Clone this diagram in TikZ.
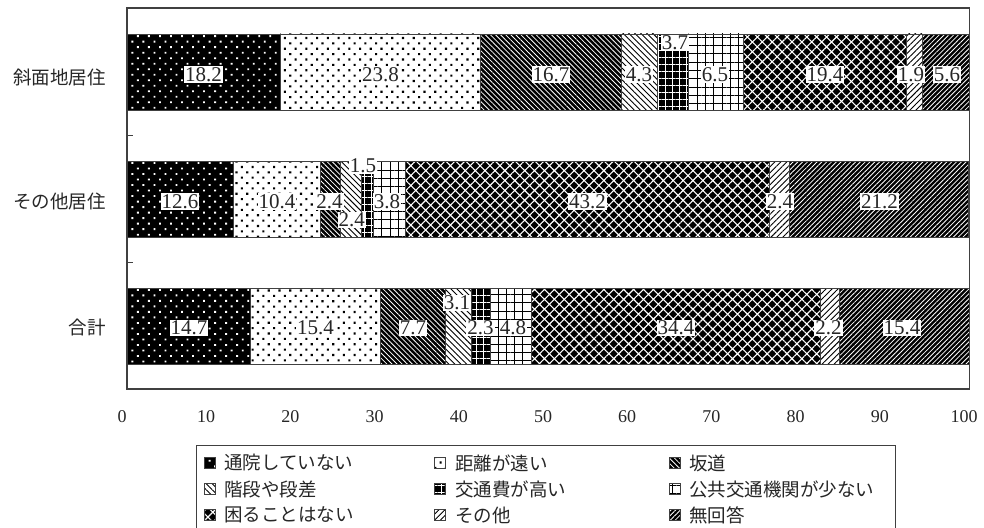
\documentclass[tikz,border=0pt]{standalone}
\usepackage{fontspec}
\setmainfont{Liberation Serif}
\newfontfamily\jp{Noto Sans CJK JP}
\usetikzlibrary{patterns.meta}
\definecolor{frm}{HTML}{404040}
\definecolor{txt}{HTML}{262626}
\tikzset{
  pA/.style={preaction={fill=black}, pattern={Dots[radius=1.3pt, distance=7.8pt, angle=45]}, pattern color=white},
  pB/.style={preaction={fill=white}, pattern={Dots[radius=1.5pt, distance=7.6pt, angle=45]}, pattern color=black},
  pC/.style={preaction={fill=black}, pattern={Lines[angle=-45, distance=3.6pt, line width=0.8pt]}, pattern color=white},
  pD/.style={preaction={fill=white}, pattern={Lines[angle=-45, distance=4.2pt, line width=0.9pt]}, pattern color=black},
  pE/.style={preaction={fill=black}, pattern={Hatch[angle=0, distance=7pt, line width=1pt]}, pattern color=white},
  pF/.style={preaction={fill=white}, pattern={Hatch[angle=0, distance=8.3pt, line width=1pt]}, pattern color=black},
  pG/.style={preaction={fill=black}, pattern={Hatch[angle=45, distance=7pt, line width=1.1pt]}, pattern color=white},
  pH/.style={preaction={fill=white}, pattern={Lines[angle=45, distance=4.2pt, line width=0.9pt]}, pattern color=black},
  pI/.style={preaction={fill=black}, pattern={Lines[angle=45, distance=3.4pt, line width=0.8pt]}, pattern color=white},
  segline/.style={draw=frm, line width=0.8pt},
  vlab/.style={fill=white, inner sep=1pt, text=txt, font=\fontsize{21}{21}\selectfont},
  ticklab/.style={inner sep=0pt, text=txt, font=\fontsize{18}{18}\selectfont},
  catlab/.style={anchor=east, inner sep=0pt, text=txt, font=\jp\fontsize{18.5}{18.5}\selectfont},
  leglab/.style={anchor=west, inner sep=0pt, text=txt, font=\jp\fontsize{18.5}{18.5}\selectfont},
  swatch/.style={draw=frm, line width=0.6pt, minimum size=10.5pt, inner sep=0pt},
}
\newcommand\segm[4]{\path[#4, segline] ({127+8.42*#1},#3) rectangle ({127+8.42*#2},{#3+76});}
\begin{document}
\begin{tikzpicture}[x=1pt, y=-1pt]
\useasboundingbox[fill=white] (0,0) rectangle (984,527);
% bar 1
\segm{0}{18.2}{34}{pA}
\segm{18.2}{42.0}{34}{pB}
\segm{42.0}{58.7}{34}{pC}
\segm{58.7}{63.0}{34}{pD}
\segm{63.0}{66.7}{34}{pE}
\segm{66.7}{73.2}{34}{pF}
\segm{73.2}{92.6}{34}{pG}
\segm{92.6}{94.5}{34}{pH}
\segm{94.5}{100.1}{34}{pI}
% bar 2
\segm{0}{12.6}{161.5}{pA}
\segm{12.6}{23.0}{161.5}{pB}
\segm{23.0}{25.4}{161.5}{pC}
\segm{25.4}{27.8}{161.5}{pD}
\segm{27.8}{29.3}{161.5}{pE}
\segm{29.3}{33.1}{161.5}{pF}
\segm{33.1}{76.3}{161.5}{pG}
\segm{76.3}{78.7}{161.5}{pH}
\segm{78.7}{99.9}{161.5}{pI}
% bar 3
\segm{0}{14.7}{288}{pA}
\segm{14.7}{30.1}{288}{pB}
\segm{30.1}{37.8}{288}{pC}
\segm{37.8}{40.9}{288}{pD}
\segm{40.9}{43.2}{288}{pE}
\segm{43.2}{48.0}{288}{pF}
\segm{48.0}{82.4}{288}{pG}
\segm{82.4}{84.6}{288}{pH}
\segm{84.6}{100.0}{288}{pI}
% frame
\draw[frm, line width=1.2pt] (127,8) rectangle (969.5,389);
\draw[frm, line width=1pt] (127,135) -- (133,135) (127,262) -- (133,262);
% value labels bar 1
\node[vlab] (a1) at (203.6,74.5) {18.2};
\node[vlab] (a2) at (380.4,74.5) {23.8};
\node[vlab] (a3) at (551,74.5) {16.7};
\node[vlab] (a4) at (639,74.5) {4.3};
\node[vlab] (a5) at (675,43) {3.7};
\node[vlab] (a6) at (715,74.5) {6.5};
\node[vlab] (a7) at (825,74.5) {19.4};
\node[vlab] (a8) at (911,74.5) {1.9};
\node[vlab] (a9) at (947,74.5) {5.6};
% value labels bar 2
\node[vlab] (b1) at (180,201.5) {12.6};
\node[vlab] (b2) at (277,201.5) {10.4};
\node[vlab] (b3) at (329.5,201.5) {2.4};
\node[vlab] (b4) at (351.7,220) {2.4};
\node[vlab] (b5) at (363,166) {1.5};
\node[vlab] (b6) at (387,201.5) {3.8};
\node[vlab] (b7) at (587.5,201.5) {43.2};
\node[vlab] (b8) at (780,201.5) {2.4};
\node[vlab] (b9) at (879.5,201.5) {21.2};
% value labels bar 3
\node[vlab] (c1) at (189,328) {14.7};
\node[vlab] (c2) at (315.6,328) {15.4};
\node[vlab] (c3) at (413,328) {7.7};
\node[vlab] (c4) at (457,303) {3.1};
\node[vlab] (c5) at (480.5,328) {2.3};
\node[vlab] (c6) at (513,328) {4.8};
\node[vlab] (c7) at (676,328) {34.4};
\node[vlab] (c8) at (828.5,328) {2.2};
\node[vlab] (c9) at (902,328) {15.4};
% category labels
\node[catlab] (k1) at (106,77) {斜面地居住};
\node[catlab] (k2) at (106,201) {その他居住};
\node[catlab] (k3) at (106,327) {合計};
% tick labels
\foreach \v [count=\i] in {0,10,...,100}
  \node[ticklab] (t\i) at ({122+8.42*\v},417) {\v};
% legend
\draw[frm, line width=1pt] (196,530) -- (196,445.5) -- (895,445.5) -- (895,530);
\node[swatch, pA] (s1) at (210,463) {};
\node[leglab] (g1) at (224,463) {通院していない};
\node[swatch, pB] (s2) at (440,463) {};
\node[leglab] (g2) at (455,463) {距離が遠い};
\node[swatch, pC] (s3) at (675,463) {};
\node[leglab] (g3) at (689,463) {坂道};
\node[swatch, pD] (s4) at (210,489) {};
\node[leglab] (g4) at (224,489) {階段や段差};
\node[swatch, pE] (s5) at (440,489) {};
\node[leglab] (g5) at (455,489) {交通費が高い};
\node[swatch, pF] (s6) at (675,489) {};
\node[leglab] (g6) at (689,489) {公共交通機関が少ない};
\node[swatch, pG] (s7) at (210,515) {};
\node[leglab] (g7) at (224,515) {困ることはない};
\node[swatch, pH] (s8) at (440,515) {};
\node[leglab] (g8) at (455,515) {その他};
\node[swatch, pI] (s9) at (675,515) {};
\node[leglab] (g9) at (689,515) {無回答};
\end{tikzpicture}
\end{document}
